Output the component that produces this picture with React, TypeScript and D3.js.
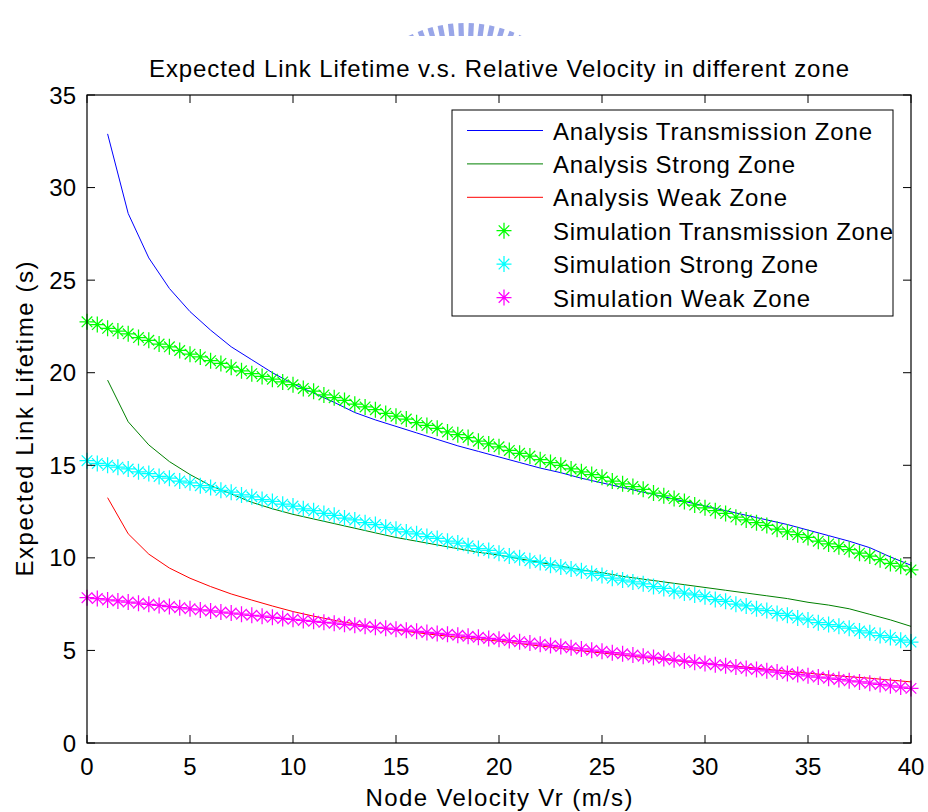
import React from "react";
import * as d3 from "d3";

// ---------- data ----------
const analysisX = d3.range(1, 41); // 1..40 (m/s)
const simX = d3.range(0, 40.5, 0.5); // 0..40 step 0.5

const analysisTransmission = [
  32.9, 28.6, 26.2, 24.55, 23.3, 22.3, 21.4, 20.7, 20.0, 19.4,
  18.9, 18.4, 17.85, 17.45, 17.1, 16.75, 16.4, 16.05, 15.75, 15.45,
  15.15, 14.85, 14.6, 14.3, 14.05, 13.8, 13.55, 13.3, 13.05, 12.8,
  12.55, 12.3, 12.05, 11.8, 11.5, 11.2, 10.9, 10.55, 10.05, 9.6,
];
const analysisStrong = [
  19.6, 17.35, 16.1, 15.2, 14.5, 13.9, 13.45, 13.0, 12.65, 12.35,
  12.1, 11.85, 11.6, 11.35, 11.1, 10.9, 10.7, 10.5, 10.3, 10.15,
  9.95, 9.75, 9.55, 9.35, 9.2, 9.0, 8.85, 8.7, 8.55, 8.4,
  8.25, 8.1, 7.95, 7.8, 7.6, 7.45, 7.25, 6.95, 6.65, 6.3,
];
const analysisWeak = [
  13.25, 11.3, 10.2, 9.45, 8.9, 8.45, 8.05, 7.72, 7.4, 7.1,
  6.85, 6.63, 6.43, 6.25, 6.1, 5.96, 5.83, 5.71, 5.6, 5.5,
  5.37, 5.24, 5.11, 4.98, 4.86, 4.74, 4.62, 4.51, 4.4, 4.3,
  4.2, 4.1, 3.98, 3.87, 3.77, 3.67, 3.58, 3.5, 3.4, 3.3,
];

const simTransmission = [
  22.75, 22.6, 22.4, 22.25, 22.1, 21.9, 21.75, 21.55, 21.4, 21.2,
  21.0, 20.85, 20.65, 20.5, 20.3, 20.1, 19.95, 19.8, 19.65, 19.5,
  19.35, 19.15, 19.0, 18.8, 18.65, 18.5, 18.3, 18.15, 18.0, 17.8,
  17.65, 17.5, 17.3, 17.15, 17.0, 16.8, 16.65, 16.5, 16.3, 16.15,
  16.0, 15.8, 15.65, 15.5, 15.3, 15.15, 15.0, 14.8, 14.65, 14.5,
  14.35, 14.15, 14.0, 13.85, 13.7, 13.5, 13.35, 13.2, 13.05, 12.85,
  12.7, 12.55, 12.4, 12.2, 12.05, 11.9, 11.75, 11.55, 11.4, 11.25,
  11.1, 10.9, 10.75, 10.6, 10.45, 10.25, 10.1, 9.9, 9.7, 9.55,
  9.35,
];
const simStrong = [
  15.25, 15.1, 15.0, 14.9, 14.8, 14.65, 14.55, 14.4, 14.3, 14.15,
  14.05, 13.9, 13.8, 13.65, 13.55, 13.4, 13.3, 13.15, 13.05, 12.9,
  12.8, 12.65, 12.55, 12.4, 12.3, 12.15, 12.05, 11.9, 11.8, 11.65,
  11.55, 11.4, 11.3, 11.15, 11.05, 10.9, 10.8, 10.65, 10.5, 10.4,
  10.25, 10.1, 10.0, 9.85, 9.75, 9.6, 9.5, 9.4, 9.3, 9.15,
  9.05, 8.9, 8.8, 8.7, 8.6, 8.45, 8.35, 8.2, 8.1, 8.0,
  7.9, 7.75, 7.65, 7.5, 7.4, 7.25, 7.15, 7.0, 6.9, 6.75,
  6.65, 6.5, 6.4, 6.3, 6.2, 6.05, 5.95, 5.8, 5.7, 5.55,
  5.45,
];
const simWeak = [
  7.85, 7.8, 7.73, 7.67, 7.61, 7.55, 7.49, 7.43, 7.37, 7.31,
  7.25, 7.19, 7.13, 7.07, 7.02, 6.96, 6.9, 6.85, 6.79, 6.73,
  6.68, 6.62, 6.57, 6.52, 6.47, 6.41, 6.36, 6.3, 6.25, 6.2,
  6.14, 6.09, 6.03, 5.97, 5.92, 5.87, 5.82, 5.76, 5.71, 5.65,
  5.6, 5.53, 5.47, 5.4, 5.34, 5.27, 5.21, 5.14, 5.08, 5.01,
  4.95, 4.88, 4.82, 4.75, 4.69, 4.62, 4.56, 4.49, 4.43, 4.36,
  4.3, 4.23, 4.17, 4.1, 4.03, 3.97, 3.9, 3.83, 3.76, 3.7,
  3.63, 3.56, 3.5, 3.43, 3.36, 3.3, 3.23, 3.16, 3.09, 3.02,
  2.95,
];

const xTicks = [0, 5, 10, 15, 20, 25, 30, 35, 40];
const yTicks = [0, 5, 10, 15, 20, 25, 30, 35];

const titleText = "Expected Link Lifetime v.s. Relative Velocity in different zone";
const xLabelText = "Node Velocity Vr (m/s)";
const yLabelText = "Expected Link Lifetime (s)";

const lineSeries = [
  { name: "Analysis Transmission Zone", values: analysisTransmission, color: "#0000ff", tl: 319 },
  { name: "Analysis Strong Zone", values: analysisStrong, color: "#008000", tl: 242 },
  { name: "Analysis Weak Zone", values: analysisWeak, color: "#ff0000", tl: 234 },
];
const markerSeries = [
  { name: "Simulation Transmission Zone", values: simTransmission, color: "#00ff00", tl: 340 },
  { name: "Simulation Strong Zone", values: simStrong, color: "#00ffff", tl: 265 },
  { name: "Simulation Weak Zone", values: simWeak, color: "#ff00ff", tl: 257 },
];

// ---------- layout ----------
const W = 928;
const H = 812;
const PL = 87, PR = 911, PT = 95, PB = 743;
const FONT = "'Liberation Sans', Arial, Helvetica, sans-serif";
const TICK = 8;

const starPath = (s: number, d: number) =>
  `M${-s},0L${s},0M0,${-s - 0.5}L0,${s + 0.5}M${-d},${-d}L${d},${d}M${-d},${d}L${d},${-d}`;

export default function App() {
  const x = d3.scaleLinear().domain([0, 40]).range([PL, PR]);
  const y = d3.scaleLinear().domain([0, 35]).range([PB, PT]);
  const line = d3
    .line<[number, number]>()
    .x((d) => x(d[0]))
    .y((d) => y(d[1]));
  const star = starPath(7.5, 5.3);

  // decorative watermark (partial logo at the top)
  const wmCx = 465, wmCy = 153, wmR = 128;
  const wmAngles = d3.range(-124, -55, 4.6);

  const legX = 452, legY = 110, legW = 441, legH = 206;
  const rowBase = (i: number) => 139.5 + i * 33.4;

  return (
    <svg
      width={W}
      height={H}
      viewBox={`0 0 ${W} ${H}`}
      style={{ position: "absolute", left: 0, top: 0, background: "#fff" }}
      fontFamily={FONT}
    >
      <rect x={0} y={0} width={W} height={H} fill="#fff" />
      <defs>
        <clipPath id="wmclip">
          <rect x={0} y={0} width={W} height={36} />
        </clipPath>
        <clipPath id="plotclip">
          <rect x={PL - 10} y={PT - 10} width={PR - PL + 20} height={PB - PT + 20} />
        </clipPath>
      </defs>

      {/* watermark */}
      <g clipPath="url(#wmclip)" fill="#8e9de6" opacity={0.9}>
        {wmAngles.map((a, i) => {
          const rad = (a * Math.PI) / 180;
          const cx = wmCx + Math.cos(rad) * wmR;
          const cy = wmCy + Math.sin(rad) * wmR;
          return (
            <rect
              key={i}
              x={-2.6}
              y={-2}
              width={5.2}
              height={15}
              transform={`translate(${cx},${cy}) rotate(${a + 90})`}
            />
          );
        })}
      </g>

      {/* title */}
      <text
        x={(PL + PR) / 2}
        y={77}
        textAnchor="middle"
        fontSize={24}
        textLength={700}
        lengthAdjust="spacing"
        fill="#000"
      >
        {titleText}
      </text>

      {/* analysis lines */}
      <g clipPath="url(#plotclip)" fill="none" strokeWidth={1}>
        {lineSeries.map((s) => (
          <path
            key={s.name}
            d={line(analysisX.map((v, i) => [v, s.values[i]]) as [number, number][]) || ""}
            stroke={s.color}
          />
        ))}
      </g>

      {/* simulation markers */}
      <g clipPath="url(#plotclip)" fill="none" strokeWidth={1.25}>
        {markerSeries.map((s) => (
          <g key={s.name} stroke={s.color}>
            {simX.map((v, i) => (
              <path key={i} d={star} transform={`translate(${x(v)},${y(s.values[i])})`} />
            ))}
          </g>
        ))}
      </g>

      {/* axes box */}
      <rect x={PL} y={PT} width={PR - PL} height={PB - PT} fill="none" stroke="#000" strokeWidth={1.2} />

      {/* ticks */}
      <g stroke="#000" strokeWidth={1}>
        {xTicks.map((t) => (
          <g key={t}>
            <line x1={x(t)} x2={x(t)} y1={PB} y2={PB - TICK} />
            <line x1={x(t)} x2={x(t)} y1={PT} y2={PT + TICK} />
          </g>
        ))}
        {yTicks.map((t) => (
          <g key={t}>
            <line x1={PL} x2={PL + TICK} y1={y(t)} y2={y(t)} />
            <line x1={PR} x2={PR - TICK} y1={y(t)} y2={y(t)} />
          </g>
        ))}
      </g>
      <g fontSize={24} fill="#000">
        {xTicks.map((t) => (
          <text key={t} x={x(t)} y={775} textAnchor="middle">
            {t}
          </text>
        ))}
        {yTicks.map((t) => (
          <text key={t} x={76} y={y(t) + 8.5} textAnchor="end">
            {t}
          </text>
        ))}
      </g>

      {/* axis labels */}
      <text
        x={(PL + PR) / 2}
        y={806}
        textAnchor="middle"
        fontSize={24}
        textLength={267}
        lengthAdjust="spacing"
      >
        {xLabelText}
      </text>
      <text
        transform={`translate(33,${(PT + PB) / 2}) rotate(-90)`}
        textAnchor="middle"
        fontSize={24}
        textLength={315}
        lengthAdjust="spacing"
      >
        {yLabelText}
      </text>

      {/* legend */}
      <rect x={legX} y={legY} width={legW} height={legH} fill="#fff" stroke="#000" strokeWidth={1} />
      {lineSeries.map((s, i) => (
        <g key={s.name}>
          <line x1={467} x2={543} y1={rowBase(i) - 9} y2={rowBase(i) - 9} stroke={s.color} strokeWidth={1} />
          <text x={553} y={rowBase(i)} fontSize={24} textLength={s.tl} lengthAdjust="spacing">
            {s.name}
          </text>
        </g>
      ))}
      {markerSeries.map((s, j) => {
        const i = j + 3;
        return (
          <g key={s.name}>
            <path d={star} transform={`translate(504,${rowBase(i) - 9})`} stroke={s.color} fill="none" strokeWidth={1.25} />
            <text x={553} y={rowBase(i)} fontSize={24} textLength={s.tl} lengthAdjust="spacing">
              {s.name}
            </text>
          </g>
        );
      })}
    </svg>
  );
}
